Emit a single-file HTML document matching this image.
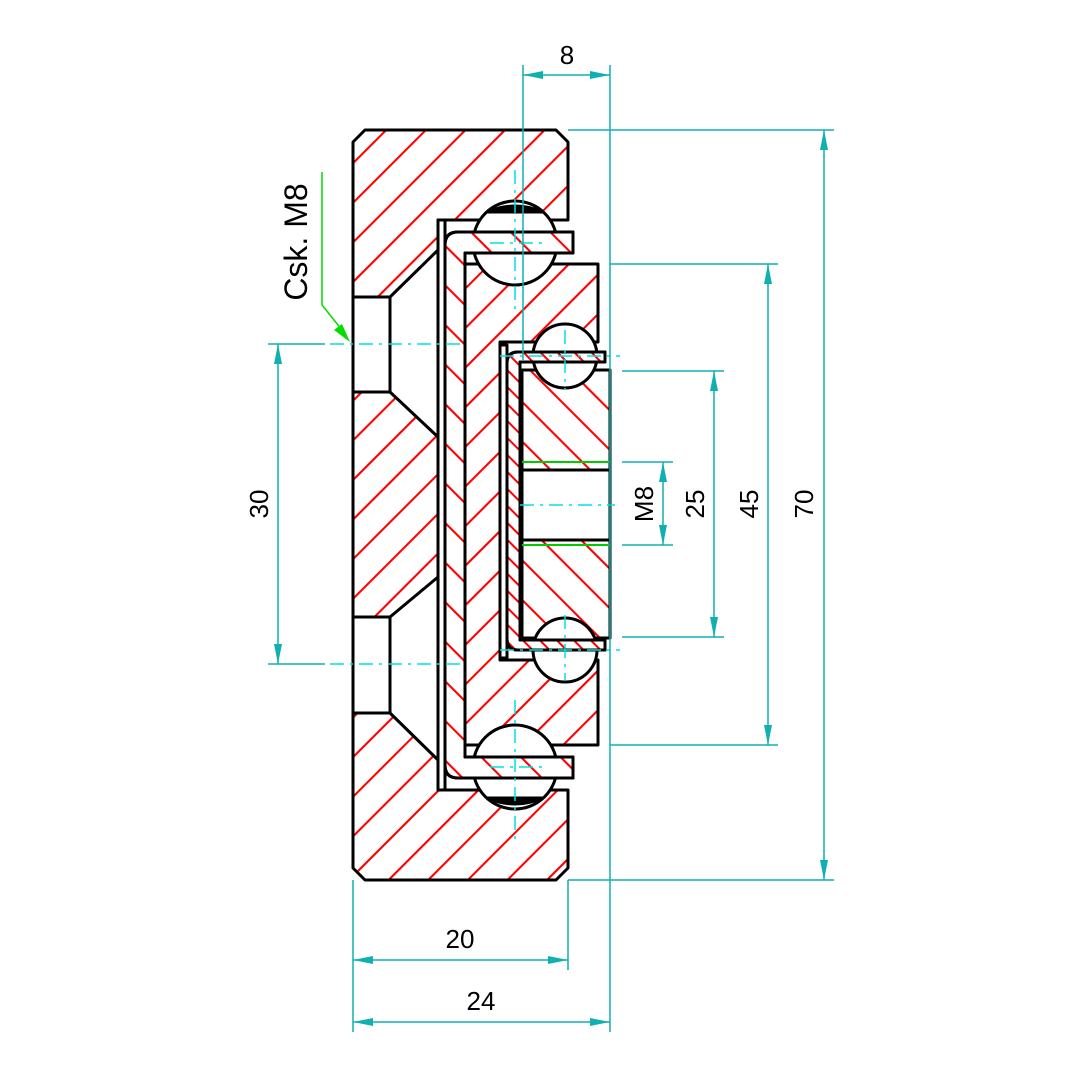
<!DOCTYPE html>
<html><head><meta charset="utf-8"><style>html,body{margin:0;padding:0;background:#fff}svg{display:block}</style></head>
<body>
<svg width="1080" height="1080" viewBox="0 0 1080 1080" xmlns="http://www.w3.org/2000/svg" font-family="Liberation Sans, sans-serif">
<defs>
<pattern id="hf" patternUnits="userSpaceOnUse" width="28" height="28" patternTransform="rotate(45)"><line x1="1" y1="0" x2="1" y2="28" stroke="#f00" stroke-width="2.2"/></pattern>
<pattern id="hb" patternUnits="userSpaceOnUse" width="28" height="28" patternTransform="rotate(-45)"><line x1="1" y1="0" x2="1" y2="28" stroke="#f00" stroke-width="2.2"/></pattern>
<pattern id="hb2" patternUnits="userSpaceOnUse" width="12" height="12" patternTransform="rotate(-45)"><line x1="1" y1="0" x2="1" y2="12" stroke="#f00" stroke-width="2"/></pattern>
<marker id="a" viewBox="0 0 20 8" refX="20" refY="4" markerWidth="20" markerHeight="8" markerUnits="userSpaceOnUse" orient="auto-start-reverse"><path d="M0,0 L20,4 L0,8 Z" fill="#10b0b0"/></marker>
</defs>
<g stroke="#000" stroke-width="3" stroke-linejoin="round">
<path d="M365,130 L556,130 L568,142 L568,220 L438,220 L438,250 L390,297 L353,297 L353,142 Z" fill="url(#hf)"/>
<path d="M353,392 L390,392 L438,437 L438,577 L390,617 L353,617 Z" fill="url(#hf)"/>
<path d="M353,713 L390,713 L438,760 L438,790 L568,790 L568,868 L556,880 L365,880 L353,868 Z" fill="url(#hf)"/>
<rect x="353" y="297" width="37" height="95" fill="#fff"/>
<rect x="353" y="617" width="37" height="96" fill="#fff"/>
<rect x="438" y="220" width="7" height="570" fill="#fff"/>
<path d="M465,264 L598,264 L598,342 L500,342 L500,660 L598,660 L598,745 L465,745 Z" fill="url(#hf)"/>
<circle cx="515" cy="243" r="42" fill="#fff"/>
<circle cx="515" cy="767" r="42" fill="#fff"/>
<path d="M487,212 Q515,200 543,212 Z" fill="#000"/>
<path d="M487,798 Q515,810 543,798 Z" fill="#000"/>
<path d="M458,232 L573,232 L573,253 L465,253 L465,757 L573,757 L573,778 L458,778 Q445,778 445,765 L445,245 Q445,232 458,232 Z" fill="#fff"/>
<path d="M458,232 L573,232 L573,253 L465,253 L465,757 L573,757 L573,778 L458,778 Q445,778 445,765 L445,245 Q445,232 458,232 Z" fill="url(#hb)"/>
<rect x="522" y="370" width="88" height="100" fill="url(#hb)"/>
<rect x="522" y="540" width="88" height="98" fill="url(#hb)"/>
<rect x="522" y="470" width="88" height="70" fill="#fff"/>
<circle cx="565" cy="356" r="32" fill="#fff"/>
<circle cx="565" cy="650" r="32" fill="#fff"/>
<rect x="500" y="345" width="7" height="313" fill="#fff"/>
<path d="M518,352 L605,352 L605,362 L520,362 L520,640 L605,640 L605,650 L518,650 Q507,650 507,639 L507,363 Q507,352 518,352 Z" fill="#fff"/>
<path d="M518,352 L605,352 L605,362 L520,362 L520,640 L605,640 L605,650 L518,650 Q507,650 507,639 L507,363 Q507,352 518,352 Z" fill="url(#hb2)"/>
</g>
<line x1="522" y1="462" x2="610" y2="462" stroke="#0c0" stroke-width="2"/>
<line x1="522" y1="545" x2="610" y2="545" stroke="#0c0" stroke-width="2"/>
<g stroke="#00e0e0" stroke-width="1.5" stroke-dasharray="14,6,3,6" fill="none">
<line x1="515" y1="170" x2="515" y2="310"/><line x1="515" y1="700" x2="515" y2="840"/>
<line x1="490" y1="243" x2="545" y2="243"/><line x1="490" y1="767" x2="545" y2="767"/>
<line x1="565" y1="330" x2="565" y2="390"/><line x1="565" y1="615" x2="565" y2="680"/>
<line x1="500" y1="356" x2="620" y2="356"/><line x1="500" y1="650" x2="620" y2="650"/>
<line x1="330" y1="344" x2="460" y2="344"/><line x1="330" y1="664" x2="460" y2="664"/>
<line x1="520" y1="505" x2="615" y2="505"/>
</g>
<g stroke="#10b0b0" stroke-width="1.5" fill="none">
<line x1="523" y1="65" x2="523" y2="360"/><line x1="610" y1="65" x2="610" y2="1032"/>
<line x1="523" y1="75" x2="610" y2="75" marker-start="url(#a)" marker-end="url(#a)"/>
<line x1="568" y1="130" x2="834" y2="130"/><line x1="568" y1="880" x2="834" y2="880"/>
<line x1="824" y1="130" x2="824" y2="880" marker-start="url(#a)" marker-end="url(#a)"/>
<line x1="610" y1="264" x2="778" y2="264"/><line x1="610" y1="745" x2="778" y2="745"/>
<line x1="768" y1="264" x2="768" y2="745" marker-start="url(#a)" marker-end="url(#a)"/>
<line x1="622" y1="371" x2="724" y2="371"/><line x1="622" y1="637" x2="724" y2="637"/>
<line x1="714" y1="371" x2="714" y2="637" marker-start="url(#a)" marker-end="url(#a)"/>
<line x1="622" y1="462" x2="673" y2="462"/><line x1="622" y1="545" x2="673" y2="545"/>
<line x1="663" y1="462" x2="663" y2="545" marker-start="url(#a)" marker-end="url(#a)"/>
<line x1="268" y1="344" x2="325" y2="344"/><line x1="268" y1="664" x2="325" y2="664"/>
<line x1="278" y1="344" x2="278" y2="664" marker-start="url(#a)" marker-end="url(#a)"/>
<line x1="353" y1="880" x2="353" y2="1032"/><line x1="568" y1="880" x2="568" y2="970"/>
<line x1="353" y1="960" x2="568" y2="960" marker-start="url(#a)" marker-end="url(#a)"/>
<line x1="353" y1="1022" x2="610" y2="1022" marker-start="url(#a)" marker-end="url(#a)"/>
</g>
<polyline points="322,172 322,305 342,330" fill="none" stroke="#0d0" stroke-width="1.5"/>
<path d="M350,342 L334,330 L342,324 Z" fill="#0d0"/>
<g font-size="26" fill="#000" text-anchor="middle">
<text x="567" y="64">8</text>
<text x="460" y="948">20</text>
<text x="481" y="1010">24</text>
<text transform="translate(268,504) rotate(-90)">30</text>
<text transform="translate(653,504) rotate(-90)">M8</text>
<text transform="translate(704,504) rotate(-90)">25</text>
<text transform="translate(758,504) rotate(-90)">45</text>
<text transform="translate(813,504) rotate(-90)">70</text>
<text transform="translate(307,242) rotate(-90)" font-size="32">Csk. M8</text>
</g>
</svg>
</body></html>
